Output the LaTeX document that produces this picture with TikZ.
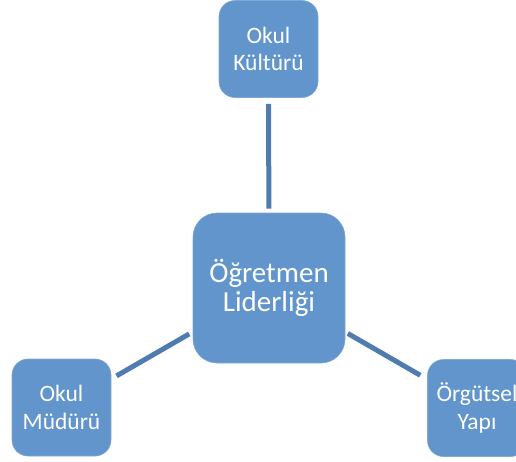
\documentclass[tikz,border=0pt]{standalone}
\usepackage{fontspec}
\setmainfont{Carlito}
\definecolor{boxfill}{HTML}{6195CB}
\definecolor{boxline}{HTML}{7FA9D6}
\definecolor{linkcol}{HTML}{4E7CAE}
\begin{document}
\begin{tikzpicture}[x=1pt,y=-1pt,
  smallbox/.style={fill=boxfill,draw=boxline,line width=0.6pt,rounded corners=16pt,
    minimum width=99pt,minimum height=97pt,inner sep=0pt,align=center,text=white,
    font=\fontsize{23.5}{27.5}\selectfont},
  bigbox/.style={fill=boxfill,draw=boxline,line width=0.6pt,rounded corners=24pt,
    minimum width=152pt,minimum height=150pt,inner sep=0pt,align=center,text=white,
    font=\fontsize{29}{29.5}\selectfont},
  link/.style={draw=linkcol,line width=5pt}]
\useasboundingbox (0,0) rectangle (516,461);
\clip (0,0) rectangle (516,461);
\node[bigbox] (c) at (269,288) {Öğretmen\\Liderliği};
\node[smallbox] (t) at (268.5,49) {Okul\\Kültürü};
\node[smallbox] (l) at (61.5,407.5) {Okul\\Müdürü};
\node[smallbox] (r) at (477,408) {Örgütsel\\Yapı};
\draw[link,shorten <=4pt,shorten >=6pt] (c) -- (t);
\draw[link,shorten <=4pt,shorten >=6pt] (c) -- (l);
\draw[link,shorten <=3pt,shorten >=8pt] (c) -- (r);
\end{tikzpicture}
\end{document}
